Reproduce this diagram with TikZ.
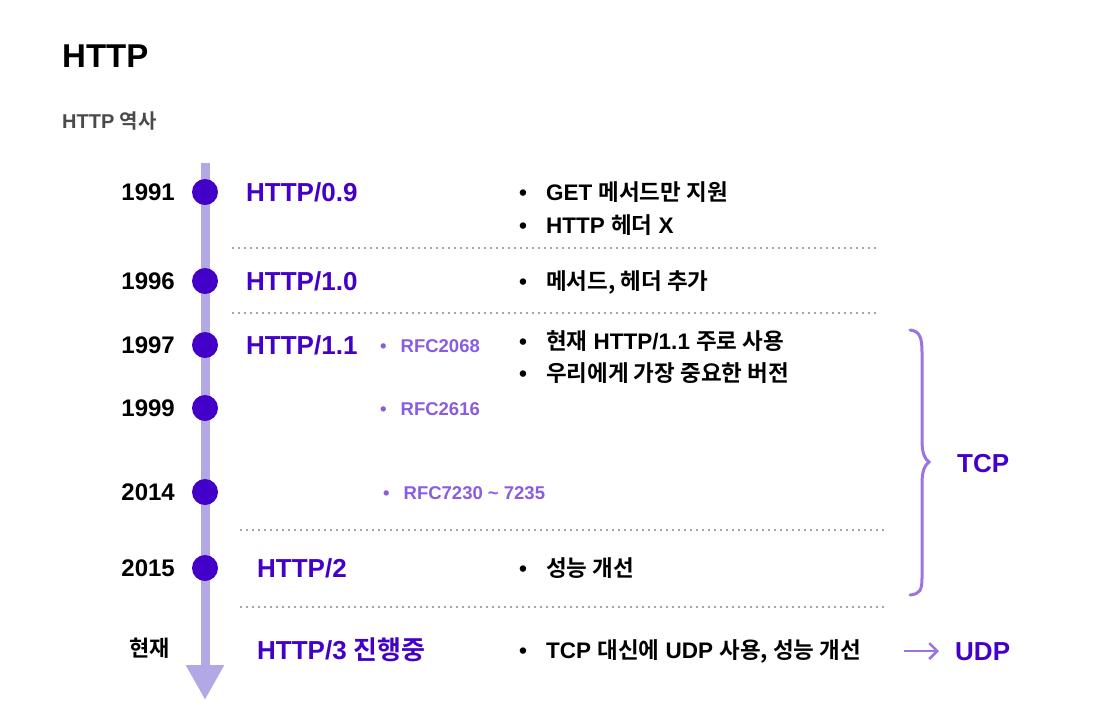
\documentclass[tikz,border=0pt]{standalone}
\usepackage{fontspec}
\setmainfont{Liberation Sans}
\newfontfamily\kr{Noto Sans CJK KR}[BoldFont={Noto Sans CJK KR Bold}]
\usepackage{tikz}
\usetikzlibrary{arrows.meta, positioning}
\newcommand{\ko}[1]{{\kr #1}}
\newcommand{\itm}{\textbullet\hspace{19pt}}
\newcommand{\rfcitm}{\textbullet\hspace{14pt}}
\definecolor{deep}{HTML}{4300C8}
\definecolor{soft}{HTML}{B2A8E6}
\definecolor{rfc}{HTML}{8A5CE0}
\definecolor{brace}{HTML}{9C74E0}
\definecolor{sub}{HTML}{4A4A4A}

\begin{document}
\begin{tikzpicture}[x=1pt, y=-1pt,
    txt/.style={inner sep=0pt, anchor=base west, font=\bfseries},
    year/.style={inner sep=0pt, anchor=base east, font=\fontsize{24}{24}\bfseries\selectfont},
    dot/.style={circle, fill=deep, inner sep=0pt, minimum size=26pt},
    version/.style={txt, text=deep, font=\fontsize{26}{26}\bfseries\selectfont},
    rfcnote/.style={txt, text=rfc, font=\fontsize{18.5}{18.5}\bfseries\selectfont},
    note/.style={txt, font=\fontsize{22.5}{22.5}\bfseries\selectfont},
    divider/.style={draw=gray!70, line width=1.5pt, dash pattern=on 1.5pt off 4.5pt},
    timeline/.style={draw=soft, line width=9pt, -{Triangle[width=36pt, length=35pt]}}]

    \useasboundingbox (0,0) rectangle (1108,724);

    % titles
    \node[txt, font=\fontsize{33}{33}\bfseries\selectfont] (title) at (62,67) {HTTP};
    \node[txt, text=sub, font=\fontsize{20}{20}\bfseries\selectfont] (subtitle) at (62,128) {HTTP \ko{역사}};

    % timeline
    \coordinate (tltop) at (205,163);
    \coordinate (tlend) at (205,700);
    \draw[timeline] (tltop) -- (tlend);

    \node[dot] (d1991) at (205,192) {};
    \node[dot] (d1996) at (205,281) {};
    \node[dot] (d1997) at (205,345) {};
    \node[dot] (d1999) at (205,408) {};
    \node[dot] (d2014) at (205,492) {};
    \node[dot] (d2015) at (205,568) {};

    % years
    \node[year] (y1991) at (175,200) {1991};
    \node[year] (y1996) at (175,289) {1996};
    \node[year] (y1997) at (175,353) {1997};
    \node[year] (y1999) at (175,416) {1999};
    \node[year] (y2014) at (175,500) {2014};
    \node[year] (y2015) at (175,576) {2015};
    \node[year, font=\fontsize{22}{22}\bfseries\selectfont] (ynow) at (170,656) {\ko{현재}};

    % versions
    \node[version] (v09) at (246,201) {HTTP/0.9};
    \node[version] (v10) at (246,290) {HTTP/1.0};
    \node[version] (v11) at (246,354) {HTTP/1.1};
    \node[version] (v2) at (257,577) {HTTP/2};
    \node[version] (v3) at (257,659) {HTTP/3 \ko{진행중}};

    % rfc
    \node[rfcnote] (rfc2068) at (380,352) {\rfcitm RFC2068};
    \node[rfcnote] (rfc2616) at (380,415) {\rfcitm RFC2616};
    \node[rfcnote] (rfc7230) at (383,499) {\rfcitm RFC7230 \textasciitilde{} 7235};

    % notes
    \node[note] (n09a) at (519,200) {\itm GET \ko{메서드만 지원}};
    \node[note] (n09b) at (519,233) {\itm HTTP \ko{헤더} X};
    \node[note] (n10) at (519,289) {\itm \ko{메서드, 헤더 추가}};
    \node[note] (n11a) at (519,349) {\itm \ko{현재} HTTP/1.1 \ko{주로 사용}};
    \node[note] (n11b) at (519,381) {\itm \ko{우리에게 가장 중요한 버전}};
    \node[note] (n2) at (519,576) {\itm \ko{성능 개선}};
    \node[note] (n3) at (519,658) {\itm TCP \ko{대신에} UDP \ko{사용, 성능 개선}};

    % dividers
    \draw[divider] (232,248) -- (880,248);
    \draw[divider] (232,313) -- (880,313);
    \draw[divider] (240,530) -- (888,530);
    \draw[divider] (240,607) -- (888,607);

    % brace and transport
    \draw[brace, line width=3pt, line cap=round]
        (910,330) .. controls (920,331) and (922,338) .. (922,352)
        -- (922,440) .. controls (922,454) and (925,459) .. (929,462)
        .. controls (925,465) and (922,470) .. (922,484)
        -- (922,578) .. controls (922,590) and (920,594) .. (910,595);
    \node[version] (tcp) at (957,472) {TCP};
    \node[version] (udp) at (955,660) {UDP};
    \coordinate (udpfrom) at (904,651);
    \draw[brace, line width=2.5pt, shorten >=16pt, -{Straight Barb[length=8pt, width=16pt]}] (udpfrom) -- (udp.west |- udpfrom);
\end{tikzpicture}
\end{document}
